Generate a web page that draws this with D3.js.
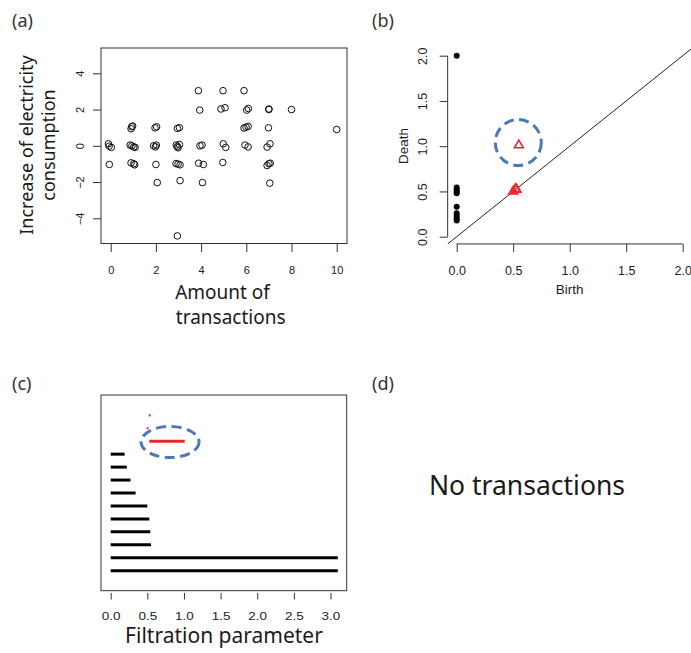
<!DOCTYPE html>
<html><head><meta charset="utf-8">
<script src="https://cdn.jsdelivr.net/npm/d3@7"></script>
<style>
html,body{margin:0;padding:0;background:#fff;}
svg{display:block;}
</style></head>
<body>
<script>
// ---- Panel (a): scatter ----
const scatterX = [3.88,4.97,5.9, 3.94,4.88,5.06,6.02,6.09,7.0,7.0,8.0,
  0.9,0.93,0.97,1.96,2.03,2.95,3.04,5.9,5.99,6.08,6.98,10.0,
  -0.1,-0.07,0.03,0.86,0.94,1.02,1.08,1.9,2.02,1.98,2.9,2.95,2.98,3.04,3.95,4.04,4.98,5.09,5.94,6.08,6.92,7.05,
  -0.06,0.9,1.02,1.06,2.0,2.89,2.98,3.07,3.89,4.1,4.96,6.92,7.0,7.06,
  2.06,3.07,4.06,7.04, 2.95];
const scatterY = [3.04,3.04,3.04, 1.97,2.03,2.1,1.97,2.06,2.03,2.0,2.0,
  0.94,1.05,1.09,0.99,1.05,0.96,1.0,0.98,1.03,1.07,0.99,0.9,
  0.11,-0.02,-0.09,0.04,0,-0.06,-0.09,0,0.04,-0.06,0.04,-0.04,-0.11,0.07,0,0.04,0.11,-0.09,0.04,-0.06,-0.07,0.11,
  -1.03,-0.94,-0.99,-1.05,-1.03,-0.98,-1.01,-1.05,-0.96,-1.03,-0.92,-1.09,-0.99,-0.96,
  -2.03,-1.92,-2.03,-2.06, -4.97];
const scatterXTicks = [0,2,4,6,8,10];
const scatterYTicks = [-4,-2,0,2,4];

// ---- Panel (b): persistence diagram ----
const diagBirth = [0,0,0,0,0,0,0,0,0,0, 0.55,0.50,0.52,0.53];
const diagDeath = [2.0,0.545,0.52,0.50,0.48,0.33,0.26,0.23,0.20,0.18, 1.02,0.51,0.535,0.53];
const diagDim   = [0,0,0,0,0,0,0,0,0,0, 1,1,1,1];
const diagTicks = [0,0.5,1,1.5,2];
const diagHighlight = {x:0.545, y:1.04};

// ---- Panel (c): barcode ----
const barStart = [0,0,0,0,0,0,0,0,0,0, 0.527,0.49,0.52];
const barEnd   = [3.1,3.1,0.55,0.54,0.527,0.5,0.34,0.27,0.22,0.19, 1.01,0.515,0.545];
const barDim   = [0,0,0,0,0,0,0,0,0,0, 1,1,1];
const barTicks = [0,0.5,1,1.5,2,2.5,3];
const barHighlight = {x:0.81, idx:10.94};

const W = 691, H = 653;
const svg = d3.select("body").append("svg").attr("width", W).attr("height", H);
svg.append("rect").attr("width", W).attr("height", H).attr("fill", "#fff");

const big = "'Noto Sans', 'DejaVu Sans', sans-serif";
const sm = "'Liberation Sans', Arial, sans-serif";
const ink = "#1a1a1a";
const axc = "#333";
const red = "#e8292c";
const blue = "#4a7bb7";

// panel letters
[["(a)",12,26.5],["(b)",372,26.5],["(c)",12,389.5],["(d)",372,389.5]].forEach(d=>{
  svg.append("text").attr("x",d[1]).attr("y",d[2]).text(d[0])
    .attr("font-family",big).attr("font-size",18).attr("fill","#333");
});

function styleAxis(g, fs, family){
  g.selectAll(".domain").attr("stroke", axc);
  g.selectAll(".tick line").attr("stroke", axc);
  g.selectAll(".tick text").attr("fill", "#222").attr("font-family", family||sm).attr("font-size", fs);
}

// ================= (a) =================
{
  const x = d3.scaleLinear().domain([0,10]).range([110.7,336.7]);
  const y = d3.scaleLinear().domain([-4,4]).range([218.3,73.3]);
  const g = svg.append("g");
  g.append("rect").attr("x",101).attr("y",48).attr("width",246).attr("height",195.5)
    .attr("fill","none").attr("stroke",axc).attr("stroke-width",1);
  const xa = g.append("g").attr("transform","translate(0,244)")
    .call(d3.axisBottom(x).tickValues(scatterXTicks).tickSize(8).tickSizeOuter(0).tickFormat(d3.format("d")));
  xa.select(".domain").remove();
  styleAxis(xa, 11);
  xa.selectAll(".tick text").attr("dy",0).attr("y",29.5);
  const ya = g.append("g").attr("transform","translate(101,0)")
    .call(d3.axisLeft(y).tickValues(scatterYTicks).tickSize(8).tickSizeOuter(0).tickFormat(d=>d<0?"\u2212"+Math.abs(d):d));
  ya.select(".domain").remove();
  styleAxis(ya, 11);
  ya.selectAll(".tick text").attr("transform","rotate(-90)").attr("text-anchor","middle")
    .attr("x",0).attr("y",-17).attr("dy",0);
  g.selectAll("circle.pt").data(scatterX.map((v,i)=>[v,scatterY[i]])).enter().append("circle")
    .attr("cx",d=>x(d[0])).attr("cy",d=>y(d[1])).attr("r",3.3)
    .attr("fill","none").attr("stroke","#111").attr("stroke-width",1);
  // labels (two-line)
  const xl = g.append("text").attr("text-anchor","middle")
    .attr("font-family",big).attr("font-size",19).attr("fill",ink);
  xl.append("tspan").attr("x",222.5).attr("y",298.5).text("Amount of");
  xl.append("tspan").attr("x",230.7).attr("y",323.5).text("transactions");
  const yl = g.append("text").attr("transform","translate(0,145) rotate(-90)").attr("text-anchor","middle")
    .attr("font-family",big).attr("font-size",18).attr("fill",ink);
  yl.append("tspan").attr("x",0).attr("y",33).text("Increase of electricity");
  yl.append("tspan").attr("x",0).attr("y",54.5).text("consumption");
}

// ================= (b) =================
{
  const x = d3.scaleLinear().domain([0,2]).range([456.7,682.7]);
  const y = d3.scaleLinear().domain([0,2]).range([236.7,55.7]);
  const g = svg.append("g");
  const x0 = x(-0.08), x1 = x(2.08), y0 = y(-0.08), y1 = y(2.08);
  g.append("clipPath").attr("id","clipB").append("rect")
    .attr("x",x0).attr("y",y1).attr("width",x1-x0).attr("height",y0-y1);
  g.append("line").attr("clip-path","url(#clipB)")
    .attr("x1",x(-0.1)).attr("y1",y(-0.1)).attr("x2",x(2.2)).attr("y2",y(2.2))
    .attr("stroke","#222").attr("stroke-width",1);
  const xa = g.append("g").attr("transform",`translate(0,${y0})`)
    .call(d3.axisBottom(x).tickValues(diagTicks).tickSize(8).tickSizeOuter(0).tickFormat(d3.format(".1f")));
  styleAxis(xa, 12.5);
  xa.select(".domain").attr("d",`M${x(0)},0H${x(2)}`);
  xa.selectAll(".tick text").attr("dy",0).attr("y",30.7);
  const ya = g.append("g").attr("transform",`translate(${x0},0)`)
    .call(d3.axisLeft(y).tickValues(diagTicks).tickSize(8).tickSizeOuter(0).tickFormat(d3.format(".1f")));
  styleAxis(ya, 12.5);
  ya.select(".domain").attr("d",`M0,${y(0)}V${y(2)}`);
  ya.selectAll(".tick text").attr("transform","rotate(-90)").attr("text-anchor","middle")
    .attr("x",0).attr("y",-21).attr("dy",0);
  const pts = diagBirth.map((b,i)=>({b, d:diagDeath[i], dim:diagDim[i]}));
  g.selectAll("circle.p0").data(pts.filter(p=>p.dim===0)).enter().append("circle")
    .attr("cx",p=>x(p.b)).attr("cy",p=>y(p.d)).attr("r",3).attr("fill","#000");
  const tri = d3.symbol().type(d3.symbolTriangle).size(34);
  g.selectAll("path.p1").data(pts.filter(p=>p.dim===1)).enter().append("path")
    .attr("d",tri).attr("transform",p=>`translate(${x(p.b)},${y(p.d)+0.8})`)
    .attr("fill","none").attr("stroke",red).attr("stroke-width",1.6);
  g.append("circle").attr("cx",x(diagHighlight.x)).attr("cy",y(diagHighlight.y)).attr("r",23)
    .attr("fill","none").attr("stroke",blue).attr("stroke-width",3).attr("stroke-dasharray","10,5.5");
  g.append("text").attr("x",569.7).attr("y",294).attr("text-anchor","middle")
    .attr("font-family",sm).attr("font-size",13.5).attr("fill","#222").text("Birth");
  g.append("text").attr("transform","translate(408,146) rotate(-90)").attr("text-anchor","middle")
    .attr("font-family",sm).attr("font-size",13.5).attr("fill","#222").text("Death");
}

// ================= (c) =================
{
  const x = d3.scaleLinear().domain([0,3]).range([110.7,330.5]);
  const y = d3.scaleLinear().domain([1,13]).range([570.7,415.3]);
  const g = svg.append("g");
  g.append("rect").attr("x",101).attr("y",395).attr("width",245.7).attr("height",195.7)
    .attr("fill","none").attr("stroke",axc).attr("stroke-width",1);
  const xa = g.append("g").attr("transform","translate(0,593)")
    .call(d3.axisBottom(x).tickValues(barTicks).tickSize(6.5).tickSizeOuter(0).tickFormat(d3.format(".1f")));
  xa.select(".domain").remove();
  styleAxis(xa, 10);
  xa.selectAll(".tick text").attr("dy",0).attr("y",27).attr("transform","scale(1.35,1)");
  const bars = barStart.map((s,i)=>({s, e:barEnd[i], dim:barDim[i], idx:i+1}));
  g.selectAll("line.bar").data(bars).enter().append("line")
    .attr("x1",b=>x(b.s)).attr("x2",b=>x(b.e)).attr("y1",b=>y(b.idx)).attr("y2",b=>y(b.idx))
    .attr("stroke",b=>b.dim===0?"#000":red).attr("stroke-width",b=>(b.e-b.s)<0.05?2.2:3);
  g.append("ellipse").attr("cx",x(barHighlight.x)).attr("cy",y(barHighlight.idx)).attr("rx",29).attr("ry",15.5)
    .attr("fill","none").attr("stroke",blue).attr("stroke-width",3).attr("stroke-dasharray","10,5.5");
  g.append("text").attr("x",224).attr("y",643).attr("text-anchor","middle")
    .attr("font-family",big).attr("font-size",21).attr("fill",ink).text("Filtration parameter");
}

// ================= (d) =================
svg.append("text").attr("x",527).attr("y",495).attr("text-anchor","middle")
  .attr("font-family",big).attr("font-size",26.5).attr("fill",ink).text("No transactions");
</script>
</body></html>
